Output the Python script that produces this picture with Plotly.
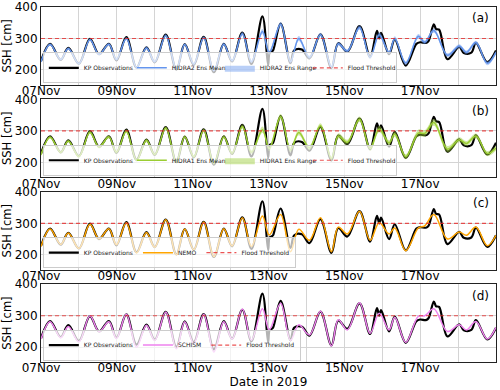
import numpy as np
import pandas as pd
import plotly.graph_objects as go
from plotly.subplots import make_subplots

# ── data ──────────────────────────────────────────────────────────────────────
# time in days since 07 Nov 2019 00:00
obs_days = [0.00, 0.24, 0.52, 0.72, 1.00, 1.29, 1.53, 1.79, 1.99, 2.25, 2.52, 2.78,
            3.00, 3.29, 3.57, 3.79, 4.03, 4.29, 4.56, 4.82, 5.04, 5.31, 5.55, 5.84,
            5.99, 6.03, 6.08, 6.12, 6.32, 6.58, 6.68, 6.88, 7.08, 7.37, 7.66, 7.84,
            8.08, 8.40, 8.68, 8.86, 8.92, 8.97, 9.18, 9.33, 9.62, 9.90, 10.00, 10.15,
            10.22, 10.36, 10.42, 10.50, 10.72, 11.03, 11.15, 11.35, 11.47, 11.77, 12.00]
obs_ssh = [228, 283, 232, 270, 220, 299, 250, 283, 230, 304, 208, 272,
           224, 312, 201, 282, 216, 305, 193, 283, 227, 319, 219, 370,
           215, 255, 258, 262, 347, 222, 262, 265, 237, 313, 206, 285,
           258, 339, 242, 324, 300, 318, 250, 297, 214, 283, 288, 286,
           292, 345, 330, 328, 234, 273, 254, 255, 286, 225, 262]

mod_days = [0.00, 0.24, 0.52, 0.72, 1.00, 1.29, 1.53, 1.79, 1.99, 2.25, 2.52, 2.78,
            3.00, 3.29, 3.57, 3.79, 4.03, 4.29, 4.56, 4.82, 5.04, 5.31, 5.55, 5.84,
            6.02, 6.32, 6.58, 6.80, 7.08, 7.37, 7.66, 7.84, 8.08, 8.40, 8.68, 8.92,
            9.18, 9.33, 9.62, 9.95, 10.12, 10.36, 10.72, 11.03, 11.22, 11.47, 11.77, 12.00]

hidra2_mean = [226, 281, 233, 268, 220, 296, 250, 282, 233, 300, 208, 270,
               226, 309, 203, 281, 219, 302, 198, 282, 229, 315, 226, 322,
               255, 345, 226, 300, 240, 312, 209, 283, 260, 335, 240, 312,
               255, 300, 222, 307, 288, 325, 247, 276, 256, 287, 221, 256]
hidra2_lo = [222, 277, 229, 264, 216, 292, 246, 278, 229, 295, 204, 265,
             222, 304, 199, 277, 215, 297, 194, 277, 225, 309, 221, 314,
             248, 338, 220, 292, 234, 306, 204, 277, 254, 328, 234, 304,
             249, 293, 216, 300, 282, 318, 241, 270, 250, 281, 215, 250]
hidra2_hi = [230, 285, 237, 272, 224, 300, 254, 286, 237, 305, 212, 275,
             230, 314, 207, 285, 223, 307, 202, 287, 233, 321, 231, 330,
             262, 352, 232, 308, 246, 318, 214, 289, 266, 342, 246, 320,
             261, 307, 228, 314, 294, 332, 253, 282, 262, 293, 227, 262]

hidra1_mean = [224, 280, 232, 268, 219, 296, 249, 281, 232, 299, 207, 270,
               225, 309, 202, 281, 218, 302, 197, 281, 229, 314, 232, 304,
               244, 345, 240, 295, 246, 316, 212, 284, 264, 337, 244, 306,
               262, 290, 218, 293, 292, 327, 242, 272, 260, 284, 228, 246]
hidra1_lo = [219, 275, 227, 263, 214, 290, 244, 276, 227, 293, 202, 264,
             220, 303, 197, 276, 213, 296, 192, 275, 223, 307, 225, 294,
             235, 336, 232, 286, 238, 308, 205, 276, 256, 328, 236, 296,
             254, 281, 210, 282, 282, 316, 232, 264, 252, 276, 220, 238]
hidra1_hi = [229, 285, 237, 273, 224, 302, 254, 286, 237, 305, 212, 276,
             230, 315, 207, 286, 223, 308, 202, 287, 235, 321, 239, 314,
             253, 354, 248, 304, 254, 324, 219, 292, 272, 346, 252, 316,
             270, 299, 226, 304, 302, 338, 252, 280, 268, 292, 236, 254]

nemo = [226, 282, 233, 269, 220, 297, 251, 283, 232, 302, 206, 271,
        224, 311, 200, 282, 216, 304, 194, 283, 228, 318, 226, 323,
        263, 328, 210, 281, 246, 318, 210, 288, 266, 338, 246, 302,
        266, 285, 213, 285, 292, 328, 250, 272, 262, 288, 229, 262]

schism = [226, 281, 230, 266, 217, 300, 249, 281, 228, 305, 200, 270,
          222, 312, 195, 281, 212, 305, 185, 281, 226, 321, 222, 322,
          255, 340, 222, 271, 239, 314, 204, 287, 255, 341, 244, 308,
          255, 295, 215, 298, 300, 322, 250, 271, 255, 282, 226, 263]

flood_level = 300
tick_days = list(range(7, 20))
tick_labels = [f"{d:02d}Nov" if d % 2 == 1 and d < 19 else "" for d in tick_days]

start = pd.Timestamp("2019-11-07")
end = pd.Timestamp("2019-11-19")
t_obs = start + pd.to_timedelta(np.array(obs_days) * 24, unit="h")
t_mod = start + pd.to_timedelta(np.array(mod_days) * 24, unit="h")
tickvals = [pd.Timestamp(f"2019-11-{d:02d}") for d in tick_days]

# ── plot ──────────────────────────────────────────────────────────────────────
FONT = "DejaVu Sans"
SPL = dict(shape="spline", smoothing=1.0)
vspace = 0.0413
fig = make_subplots(rows=4, cols=1, vertical_spacing=vspace)
panel_h = (1 - 3 * vspace) / 4

panels = [
    dict(label="(a)", mean=hidra2_mean, lo=hidra2_lo, hi=hidra2_hi,
         name="HIDRA2 Ens Mean", rname="HIDRA2 Ens Range",
         color="#6495ED", fill="rgba(100,149,237,0.45)"),
    dict(label="(b)", mean=hidra1_mean, lo=hidra1_lo, hi=hidra1_hi,
         name="HIDRA1 Ens Mean", rname="HIDRA1 Ens Range",
         color="#9ACD32", fill="rgba(154,205,50,0.45)"),
    dict(label="(c)", mean=nemo, name="NEMO", color="#FFA500"),
    dict(label="(d)", mean=schism, name="SCHISM", color="#EE82EE"),
]

for i, p in enumerate(panels):
    row = i + 1
    lg = "legend" if i == 0 else f"legend{i + 1}"

    fig.add_trace(go.Scatter(
        x=t_obs, y=obs_ssh, name="KP Observations", mode="lines",
        line=dict(color="black", width=2.2, **SPL),
        legend=lg, legendrank=1,
    ), row=row, col=1)

    if "lo" in p:
        fig.add_trace(go.Scatter(
            x=t_mod, y=p["lo"], mode="lines", showlegend=False,
            line=dict(width=0, **SPL), legend=lg,
        ), row=row, col=1)
        fig.add_trace(go.Scatter(
            x=t_mod, y=p["hi"], mode="lines", name=p["rname"],
            fill="tonexty", fillcolor=p["fill"],
            line=dict(width=0, **SPL), legend=lg, legendrank=3,
        ), row=row, col=1)

    fig.add_trace(go.Scatter(
        x=t_mod, y=p["mean"], name=p["name"], mode="lines",
        line=dict(color=p["color"], width=1.5, **SPL),
        legend=lg, legendrank=2,
    ), row=row, col=1)

    fig.add_trace(go.Scatter(
        x=[start, end], y=[flood_level, flood_level], name="Flood Threshold",
        mode="lines", line=dict(color="rgba(230,40,40,0.8)", width=1.2, dash="4px,3px"),
        legend=lg, legendrank=4,
    ), row=row, col=1)

    dom_bottom = 1 - (i * (panel_h + vspace)) - panel_h
    fig.update_layout({lg: dict(
        x=0.004, xanchor="left", y=dom_bottom + 0.004, yanchor="bottom",
        orientation="h", traceorder="normal",
        font=dict(size=6, family=FONT, color="#222"),
        bgcolor="rgba(255,255,255,0.7)", bordercolor="#cccccc", borderwidth=1,
        entrywidth=43 if i < 2 else None,
    )})

    fig.add_annotation(
        text=p["label"], xref="x domain" if i == 0 else f"x{row} domain",
        yref="y domain" if i == 0 else f"y{row} domain",
        x=0.99, y=0.97, xanchor="right", yanchor="top", showarrow=False,
        font=dict(size=12, family=FONT, color="black"),
    )

fig.update_xaxes(
    range=[start, end], tickvals=tickvals, ticktext=tick_labels,
    showgrid=True, gridcolor="#d4d4d4", gridwidth=1, automargin=False,
    showline=True, linecolor="#222", linewidth=1, mirror=True,
    ticks="", ticklabelstandoff=-5, tickfont=dict(size=12, family=FONT, color="black"),
)
fig.update_yaxes(
    range=[153, 400], tickvals=[200, 300, 400], automargin=False,
    showgrid=True, gridcolor="#d4d4d4", gridwidth=1, zeroline=False,
    showline=True, linecolor="#222", linewidth=1, mirror=True,
    ticks="", tickfont=dict(size=12, family=FONT, color="black"),
    title=dict(text="SSH [cm]", font=dict(size=11.5, family=FONT, color="black"), standoff=4),
)
fig.update_xaxes(title=dict(text="Date in 2019", font=dict(size=12, family=FONT, color="black"),
                            standoff=0), row=4, col=1)

fig.update_layout(
    width=500, height=390,
    margin=dict(l=41, r=4, t=7, b=28),
    plot_bgcolor="white", paper_bgcolor="white",
    font=dict(family=FONT),
)

# drop the default 8px page margin so the figure fills the 500x390 window
fig.write_html("out.html", config={"displayModeBar": False},
               post_script="document.body.style.margin='0';")
